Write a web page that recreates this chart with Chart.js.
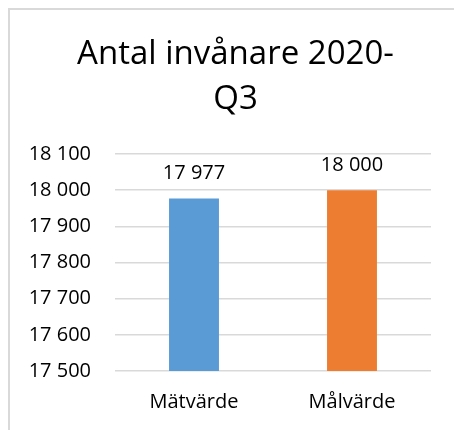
<!DOCTYPE html>
<html>
<head>
<meta charset="utf-8">
<script src="https://cdn.jsdelivr.net/npm/chart.js@4"></script>
<style>
  html, body { margin: 0; padding: 0; background: #ffffff; }
  #frame { position: absolute; left: 8px; top: 8px; width: 520px; height: 520px;
           border-left: 2px solid #d9d9d9; border-top: 2px solid #d9d9d9; }
  #wrap { position: absolute; left: 0; top: 0; width: 454px; height: 430px; }
</style>
</head>
<body>
<div id="frame"></div>
<div id="wrap"><canvas id="c" width="454" height="430"></canvas></div>
<script>
const titleLines = ["Antal invånare 2020-", "Q3"];
const categories = ["Mätvärde", "Målvärde"];
const values = [17977, 18000];
const barColors = ["#5B9BD5", "#ED7D31"];
const yMin = 17500;
const yMax = 18100;
const yStep = 100;

const FONT = "'Open Sans', sans-serif";
function fmt(v) {
  return String(Math.round(v)).replace(/\B(?=(\d{3})+(?!\d))/g, ' ');
}

const dataLabels = {
  id: 'dataLabels',
  afterDatasetsDraw(chart) {
    const ctx = chart.ctx;
    ctx.save();
    ctx.font = "20px " + FONT;
    ctx.fillStyle = "#000000";
    ctx.textAlign = "center";
    ctx.textBaseline = "alphabetic";
    chart.data.datasets.forEach((ds, i) => {
      const meta = chart.getDatasetMeta(i);
      meta.data.forEach((el, j) => {
        ctx.fillText(fmt(ds.data[j]), el.x, el.y - 19);
      });
    });
    ctx.restore();
  }
};

new Chart(document.getElementById('c'), {
  type: 'bar',
  data: {
    labels: categories,
    datasets: [{
      data: values,
      backgroundColor: barColors,
      borderWidth: 0,
      categoryPercentage: 1,
      barPercentage: 0.316
    }]
  },
  options: {
    responsive: false,
    animation: false,
    devicePixelRatio: 1,
    layout: { padding: { left: 24, right: 7, top: 20, bottom: 16 } },
    plugins: {
      legend: { display: false },
      tooltip: { enabled: false },
      title: {
        display: true,
        text: titleLines,
        color: "#000000",
        font: { family: FONT, size: 33, weight: 'normal', lineHeight: 1.36 },
        padding: { top: 12, bottom: 32.2 }
      }
    },
    scales: {
      x: {
        grid: { display: false, drawTicks: false },
        border: { display: false },
        ticks: { color: "#000000", font: { family: FONT, size: 20 }, padding: 19 },
        afterFit(scale) { scale.height = 43; }
      },
      y: {
        min: yMin,
        max: yMax,
        grid: { color: "#d9d9d9", lineWidth: 1.5, drawTicks: false },
        border: { display: false },
        ticks: {
          stepSize: yStep,
          color: "#000000",
          font: { family: FONT, size: 20 },
          padding: 24,
          callback: (v) => fmt(v)
        },
        afterFit(scale) { scale.width = 91; }
      },
      yRight: {
        position: 'right',
        display: true,
        min: yMin,
        max: yMax,
        grid: { display: false, drawTicks: false },
        border: { display: false },
        ticks: { display: false },
        afterFit(scale) { scale.width = 16; }
      }
    }
  },
  plugins: [dataLabels]
});
</script>
</body>
</html>
